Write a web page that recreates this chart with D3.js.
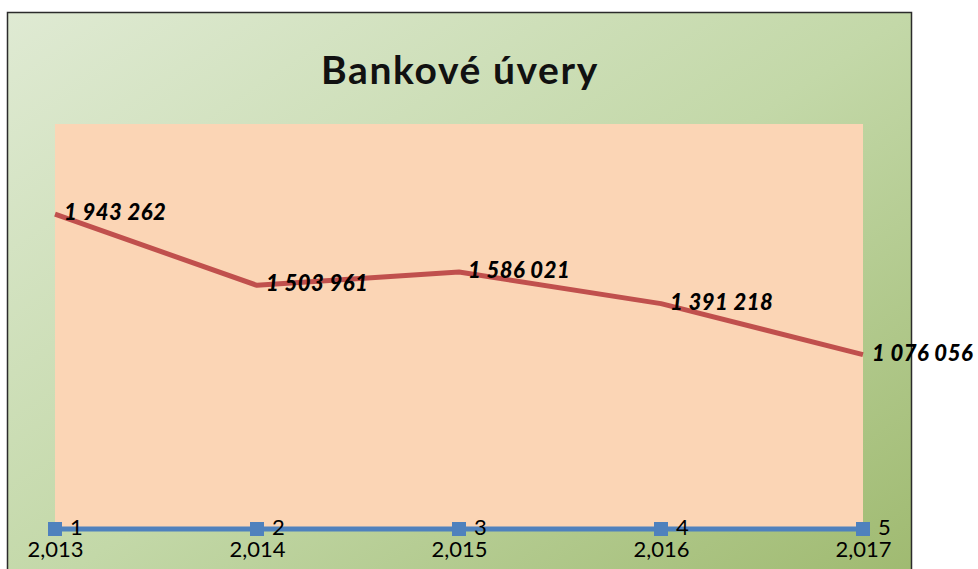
<!DOCTYPE html>
<html><head><meta charset="utf-8">
<script src="https://cdn.jsdelivr.net/npm/d3@7"></script>
<style>html,body{margin:0;padding:0;background:#fff;}svg{display:block;}</style>
</head><body>
<svg id="c" width="978" height="569"></svg>
<script>
const years = ["2,013","2,014","2,015","2,016","2,017"];
const credits = [1943262, 1503961, 1586021, 1391218, 1076056];
const index = [1, 2, 3, 4, 5];
const creditLabels = ["1 943 262","1 503 961","1 586 021","1 391 218","1 076 056"];
const title = "Bankové úvery";

const svg = d3.select("#c");
const defs = svg.append("defs");
const g = defs.append("linearGradient").attr("id","bg")
  .attr("x1","0").attr("y1","0").attr("x2","1").attr("y2","1");
g.append("stop").attr("offset","0").attr("stop-color","#DFEAD3");
g.append("stop").attr("offset","0.5").attr("stop-color","#C3D8A8");
g.append("stop").attr("offset","1").attr("stop-color","#9DB86D");

svg.append("rect").attr("x",7.5).attr("y",12.5).attr("width",904).attr("height",600)
  .attr("fill","url(#bg)").attr("stroke","#2b2b2b").attr("stroke-width",1.5);

const x = d3.scalePoint().domain(d3.range(years.length)).range([55, 863]);
const y = d3.scaleLinear().domain([0, 2500000]).range([529, 124]);

svg.append("rect").attr("x",55).attr("y",124).attr("width",808).attr("height",405)
  .attr("fill","#FBD5B5");

svg.append("text").attr("x",460).attr("y",84).attr("text-anchor","middle")
  .attr("font-family","Lato").attr("font-weight","bold").attr("font-size",39)
  .attr("letter-spacing",1.6).attr("fill","#111").text(title);

const line = d3.line().x((d,i)=>x(i)).y(d=>y(d));
svg.append("path").datum(credits).attr("d",line).attr("fill","none")
  .attr("stroke","#C0504D").attr("stroke-width",5).attr("stroke-linejoin","round");
svg.append("path").datum(index).attr("d",line).attr("fill","none")
  .attr("stroke","#4F81BD").attr("stroke-width",5);

svg.selectAll("rect.m").data(index).enter().append("rect").attr("class","m")
  .attr("x",(d,i)=>x(i)-7).attr("y",d=>y(d)-7).attr("width",14).attr("height",14)
  .attr("fill","#4F81BD");

svg.selectAll("text.cl").data(credits).enter().append("text").attr("class","cl")
  .attr("x",(d,i)=>x(i)+9).attr("y",d=>y(d)+6)
  .attr("font-family","Lato").attr("font-weight",900).attr("font-style","italic")
  .attr("font-size",22).attr("fill","#000").attr("letter-spacing",0.5)
  .text((d,i)=>creditLabels[i]);

svg.selectAll("text.il").data(index).enter().append("text").attr("class","il")
  .attr("x",(d,i)=>x(i)+15).attr("y",d=>y(d)+6)
  .attr("font-family","Lato").attr("font-size",22).attr("fill","#000")
  .text(d=>d);

const xAxis = d3.axisBottom(x).tickSize(0).tickFormat(i=>years[i]);
const ax = svg.append("g").attr("transform","translate(0,536)").call(xAxis);
ax.select(".domain").remove();
ax.selectAll("text").attr("font-family","Lato").attr("font-size",22).attr("fill","#000").attr("dy","0.8em");
</script>
</body></html>
